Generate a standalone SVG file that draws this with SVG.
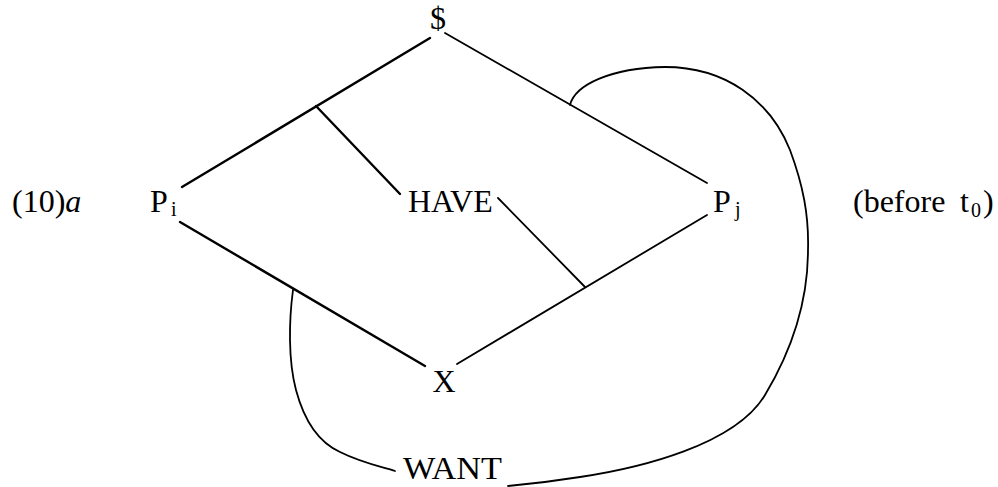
<svg xmlns="http://www.w3.org/2000/svg" width="998" height="487" viewBox="0 0 998 487">
<style>
text { font-family: "Liberation Serif", "Times New Roman", serif; fill: #000; font-size: 32px; }
.sub { font-size: 20px; }
.ln { stroke: #000; fill: none; stroke-linecap: round; }
.thick { stroke-width: 2.4; }
.thin { stroke-width: 1.8; }
</style>
<rect width="998" height="487" fill="#fff"/>
<g id="connectors">
  <line class="ln thick" x1="430" y1="38" x2="182" y2="187"/>
  <line class="ln thick" x1="316" y1="106" x2="400" y2="194"/>
  <line class="ln thin" x1="445" y1="33" x2="707" y2="183"/>
  <line class="ln thick" x1="180" y1="222" x2="425" y2="366"/>
  <line class="ln thin" x1="457" y1="364" x2="707" y2="215"/>
  <line class="ln thin" x1="498" y1="198" x2="585" y2="287"/>
  <path class="ln thin" d="M570,105 C575,85 610,68 665,67 C725,67 770,100 790,150 C803,185 809,215 808,250 C808,300 792,350 765,395 C735,445 640,468 580,477 C555,481 530,484 508,486"/>
  <path class="ln thin" d="M293,290 C289,320 288,360 296,390 C304,420 318,442 340,452 C360,462 378,466 395,471"/>
</g>
<g id="label-10a"><text x="12" y="212">(10)<tspan font-style="italic">a</tspan></text></g>
<g id="node-dollar"><text x="438" y="29" text-anchor="middle" font-size="30">$</text></g>
<g id="node-Pi"><text x="150" y="212">P<tspan class="sub" x="171" y="216">i</tspan></text></g>
<g id="node-HAVE"><text x="408" y="212" font-size="31">HAVE</text></g>
<g id="node-Pj"><text x="713" y="212">P<tspan class="sub" x="735" y="216">j</tspan></text></g>
<g id="node-X"><text x="444" y="392" text-anchor="middle">X</text></g>
<g id="node-WANT"><text x="403" y="479" font-size="32" textLength="99" lengthAdjust="spacingAndGlyphs">WANT</text></g>
<g id="label-before"><text x="853" y="212">(before<tspan x="960">t</tspan><tspan class="sub" x="971" y="217">0</tspan><tspan x="983" y="212">)</tspan></text></g>
</svg>
